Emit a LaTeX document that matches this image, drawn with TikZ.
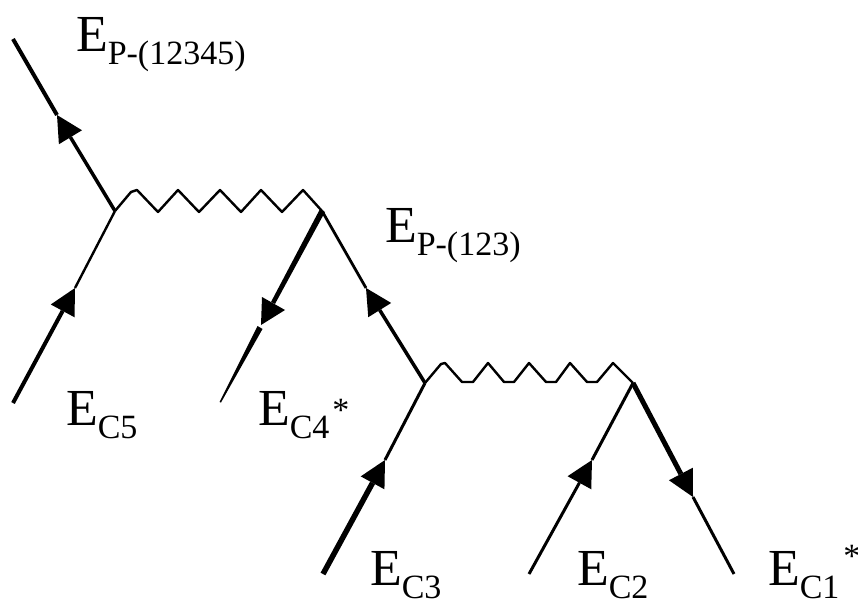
\documentclass[tikz,border=0pt]{standalone}
\usepackage{fontspec}
\setmainfont{Liberation Serif}
\usetikzlibrary{arrows.meta}
\newcommand{\elabel}[2]{\fontsize{52}{52}\selectfont E\raisebox{-13pt}{\fontsize{34}{34}\selectfont #1}#2}
\newcommand{\estar}[2]{\hspace{#1}\raisebox{#2}{\fontsize{34}{34}\selectfont *}}
\tikzset{
  lab/.style={anchor=base west,inner sep=0pt,outer sep=0pt},
  fermi/.style={line width=#1,black,line cap=butt},
  head/.style={line width=#1,black,-{Triangle[length=26pt,width=27pt,fill=black,line width=0pt]}},
  wave/.style={line width=2.4pt,black,line join=round}
}
\begin{document}
\begin{tikzpicture}[x=1pt,y=-1pt]
\useasboundingbox (0,0) rectangle (858,601);
\coordinate (out) at (13,39);
\coordinate (h1) at (57,115);
\coordinate (A) at (115,211);
\coordinate (B) at (322,211);
\coordinate (in5) at (13,403);
\coordinate (h5) at (75,288);
\coordinate (in4) at (220,402);
\coordinate (h2) at (366,288);
\coordinate (C) at (425,383);
\coordinate (D) at (633,383);
\coordinate (in3) at (323,574);
\coordinate (h3) at (385,460);
\coordinate (in2) at (529,574);
\coordinate (h6) at (592,460);
\coordinate (in1) at (734,574);
\coordinate (h7) at (693,497);
\draw[fermi=4pt] (out) -- (h1);
\draw[head=3.5pt] (A) -- (h1);
\draw[head=4pt] (in5) -- (h5);
\draw[fermi=2.4pt] (h5) -- (A);
% tapered line below the vertex B, with its skewed arrowhead
\fill (320,209) -- (325,212) -- (275,304) -- (271,302) -- cycle;
\fill (262,297) -- (261,325) -- (285,310) -- cycle;
\fill (257.5,326) -- (262.5,329) -- (221,402.5) -- (219.5,402) -- cycle;
\draw[head=3.5pt] (C) -- (h2);
\draw[fermi=2.8pt] (h2) -- (B);
\draw[head=5.5pt] (in3) -- (h3);
\draw[fermi=3pt] (h3) -- (C);
\draw[head=3pt] (in2) -- (h6);
\draw[fermi=3pt] (h6) -- (D);
\draw[head=5pt] (D) -- (h7);
\draw[fermi=3pt] (h7) -- (in1);
\draw[wave] (A) -- (131,192) -- (137,190) -- (158,212) -- (178,190) -- (199,212) -- (220,190) -- (241,212) -- (261,190) -- (282,212) -- (303,190) -- (B);
\draw[wave] (C) -- (441,364) -- (445,363) -- (462,382) -- (473,382) -- (488,363) -- (504,382) -- (514,382) -- (529,363) -- (546,382) -- (556,382) -- (570,363) -- (587,382) -- (597,382) -- (613,363) -- (D);
\node[lab] (l1) at (76,52) {\elabel{P-(12345)}{}};
\node[lab] (l2) at (385,243) {\elabel{P-(123)}{}};
\node[lab] (l3) at (66,425) {\elabel{C5}{}};
\node[lab] (l4) at (258,425) {\elabel{C4}{\estar{3pt}{4pt}}};
\node[lab] (l5) at (370,585) {\elabel{C3}{}};
\node[lab] (l6) at (577,585) {\elabel{C2}{}};
\node[lab] (l7) at (768,585) {\elabel{C1}{\estar{4pt}{18pt}}};
\end{tikzpicture}
\end{document}
